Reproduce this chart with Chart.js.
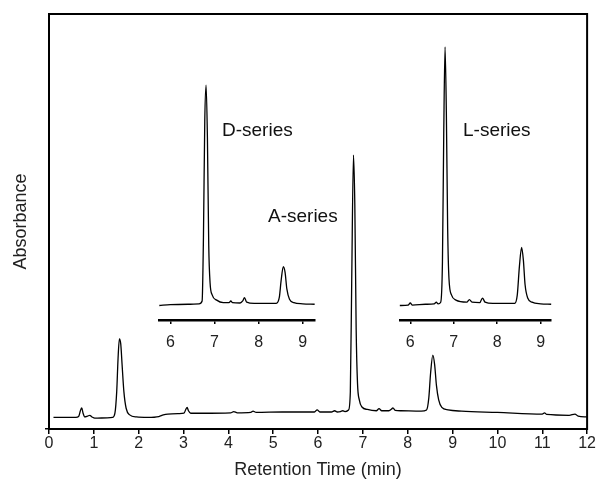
<!DOCTYPE html>
<html>
<head>
<meta charset="utf-8">
<script src="https://cdn.jsdelivr.net/npm/chart.js@4.4.0/dist/chart.umd.min.js"></script>
<style>
  html, body { margin: 0; padding: 0; background: #fff; }
  #wrap { position: relative; width: 596px; height: 492px; overflow: hidden; }
  #wrap canvas { position: absolute; }
  .lbl { position: absolute; font: 19px "Liberation Sans", Arial, sans-serif; line-height: 19px; color: #111; white-space: nowrap; }
</style>
</head>
<body>
<div id="wrap">
  <canvas id="main" width="596" height="492" style="left:0;top:0"></canvas>
  <canvas id="insD" width="159" height="330" style="left:157px;top:30px"></canvas>
  <canvas id="insL" width="157" height="330" style="left:397px;top:30px"></canvas>
  <div class="lbl" style="left:222px;top:120px">D-series</div>
  <div class="lbl" style="left:463px;top:120px">L-series</div>
  <div class="lbl" style="left:268px;top:206px">A-series</div>
</div>
<script>
// ── 主層析圖 (A-series) ──
const mainTime = [0.10, 0.60, 0.66, 0.70, 0.73, 0.76, 0.80, 0.86, 0.91, 0.96, 1.02, 1.30, 1.42, 1.47, 1.51, 1.54, 1.57, 1.60, 1.63, 1.67,
  1.72, 1.80, 1.95, 2.20, 2.45, 2.55, 2.65, 2.90, 3.01, 3.05, 3.08, 3.11, 3.16, 3.40, 4.05, 4.12, 4.20, 4.50, 4.55, 4.62,
  5.20, 5.92, 5.98, 6.04, 6.30, 6.37, 6.43, 6.50, 6.55, 6.60, 6.68, 6.72, 6.75, 6.79, 6.82, 6.85, 6.88, 6.92, 6.98, 7.10,
  7.30, 7.36, 7.42, 7.58, 7.64, 7.67, 7.72, 7.85, 8.30, 8.42, 8.47, 8.51, 8.56, 8.60, 8.64, 8.69, 8.76, 8.90, 9.20, 10.00,
  11.00, 11.05, 11.10, 11.60, 11.73, 11.80, 12.00];
const mainAbs = [2.8, 2.8, 3.0, 4.4, 5.1, 3.8, 2.9, 3.1, 3.3, 2.9, 2.6, 2.7, 2.8, 3.8, 9.0, 17.0, 21.7, 20.5, 15.5, 9.0,
  5.0, 3.4, 2.9, 2.8, 3.0, 3.4, 3.6, 3.7, 3.8, 4.7, 5.2, 4.4, 3.8, 3.8, 3.9, 4.2, 3.9, 4.0, 4.3, 4.0,
  4.1, 4.1, 4.6, 4.1, 4.1, 4.4, 4.1, 4.2, 4.4, 4.2, 4.6, 9.0, 35, 66.0, 54, 24, 11, 7.0, 5.3, 4.7,
  4.4, 4.9, 4.4, 4.4, 4.8, 5.1, 4.5, 4.4, 4.3, 4.6, 7.5, 13.5, 17.8, 15.5, 10.5, 7.0, 5.2, 4.6, 4.3, 4.0,
  3.6, 3.9, 3.5, 3.3, 3.6, 3.1, 2.9];
const mainTicks = [0, 1, 2, 3, 4, 5, 6, 7, 8, 9, 10, 11, 12];

// ── 插圖：D-series ──
const dTime = [5.75, 6.00, 6.40, 6.65, 6.72, 6.75, 6.78, 6.81, 6.84, 6.87, 6.90, 6.95, 7.05, 7.20, 7.33, 7.37, 7.41, 7.58, 7.64, 7.68,
  7.73, 7.90, 8.40, 8.47, 8.51, 8.56, 8.60, 8.64, 8.70, 8.80, 9.00, 9.27];
const dAbs = [3.5, 3.7, 3.8, 3.9, 4.6, 20, 48, 56.7, 44, 18, 9, 6, 4.8, 4.2, 4.2, 4.6, 4.2, 4.1, 4.6, 5.4,
  4.3, 4.0, 4.0, 5.5, 9.5, 12.9, 11.5, 7.5, 5.0, 4.2, 3.9, 3.8];

// ── 插圖：L-series ──
const lTime = [5.76, 5.95, 6.00, 6.05, 6.35, 6.55, 6.60, 6.64, 6.70, 6.74, 6.77, 6.80, 6.83, 6.86, 6.89, 6.95, 7.05, 7.30, 7.36, 7.42,
  7.60, 7.66, 7.72, 7.90, 8.40, 8.46, 8.51, 8.56, 8.60, 8.64, 8.70, 8.80, 9.00, 9.24];
const lAbs = [3.5, 3.6, 4.1, 3.6, 3.8, 3.9, 4.3, 3.9, 4.3, 14, 45, 65.9, 50, 22, 10, 6, 4.8, 4.3, 4.9, 4.3,
  4.2, 5.3, 4.3, 4.0, 4.0, 6.0, 13, 17.5, 14.5, 8.5, 5.3, 4.3, 3.9, 3.8];
const insetTicks = [6, 7, 8, 9];

Chart.defaults.font.family = '"Liberation Sans", Arial, Helvetica, sans-serif';
Chart.defaults.color = '#222';

const toXY = (xs, ys) => xs.map((x, i) => ({ x, y: ys[i] }));

function traceDataset(xs, ys) {
  return {
    data: toXY(xs, ys),
    borderColor: '#000',
    borderWidth: 1.3,
    pointRadius: 0,
    fill: false,
    cubicInterpolationMode: 'monotone',
    clip: false,
  };
}

const framePlugin = {
  id: 'frame',
  afterDraw(chart) {
    const { ctx, chartArea: a } = chart;
    ctx.save();
    ctx.lineWidth = 2;
    ctx.strokeStyle = '#000';
    ctx.strokeRect(a.left, a.top, a.right - a.left, a.bottom - a.top);
    ctx.restore();
  }
};

new Chart(document.getElementById('main'), {
  type: 'line',
  data: { datasets: [traceDataset(mainTime, mainAbs)] },
  options: {
    responsive: false,
    animation: false,
    layout: { padding: { top: 14, right: 8, left: 0, bottom: 0 } },
    plugins: { legend: { display: false }, tooltip: { enabled: false } },
    scales: {
      x: {
        type: 'linear', min: 0, max: 12,
        afterBuildTicks: s => { s.ticks = mainTicks.map(v => ({ value: v })); },
        ticks: { font: { size: 16 }, color: '#222', padding: 0, maxRotation: 0 },
        grid: { drawOnChartArea: false, tickLength: 5, color: '#000', lineWidth: 1.5 },
        border: { display: false },
        title: { display: true, text: 'Retention Time (min)', font: { size: 18 }, color: '#222', padding: { top: 0, bottom: 11 } },
        afterFit: s => { s.height = 63; }
      },
      y: {
        min: 0, max: 100,
        afterBuildTicks: s => { s.ticks = [{ value: 0 }]; },
        ticks: { display: false },
        grid: { drawOnChartArea: false, tickLength: 4, color: '#000', lineWidth: 1.5 },
        border: { display: false },
        title: { display: true, text: 'Absorbance', font: { size: 18 }, color: '#222', padding: { top: 10, bottom: 0 } },
        afterFit: s => { s.width = 49; }
      }
    }
  },
  plugins: [framePlugin]
});

function makeInset(id, xs, ys, xmin, xmax) {
  new Chart(document.getElementById(id), {
    type: 'line',
    data: { datasets: [traceDataset(xs, ys)] },
    options: {
      responsive: false,
      animation: false,
      layout: { padding: 0 },
      plugins: { legend: { display: false }, tooltip: { enabled: false } },
      scales: {
        x: {
          type: 'linear', min: xmin, max: xmax,
          afterBuildTicks: s => { s.ticks = insetTicks.map(v => ({ value: v })); },
          ticks: { font: { size: 16 }, color: '#222', padding: 9, maxRotation: 0 },
          grid: { drawOnChartArea: false, tickLength: 4, color: '#000', lineWidth: 1.5 },
          border: { display: true, width: 2.5, color: '#000' },
          afterFit: s => { s.height = 40; }
        },
        y: { display: false, min: 0, max: 70 }
      }
    }
  });
}

makeInset('insD', dTime, dAbs, 5.75, 9.27);
makeInset('insL', lTime, lAbs, 5.76, 9.24);
</script>
</body>
</html>
